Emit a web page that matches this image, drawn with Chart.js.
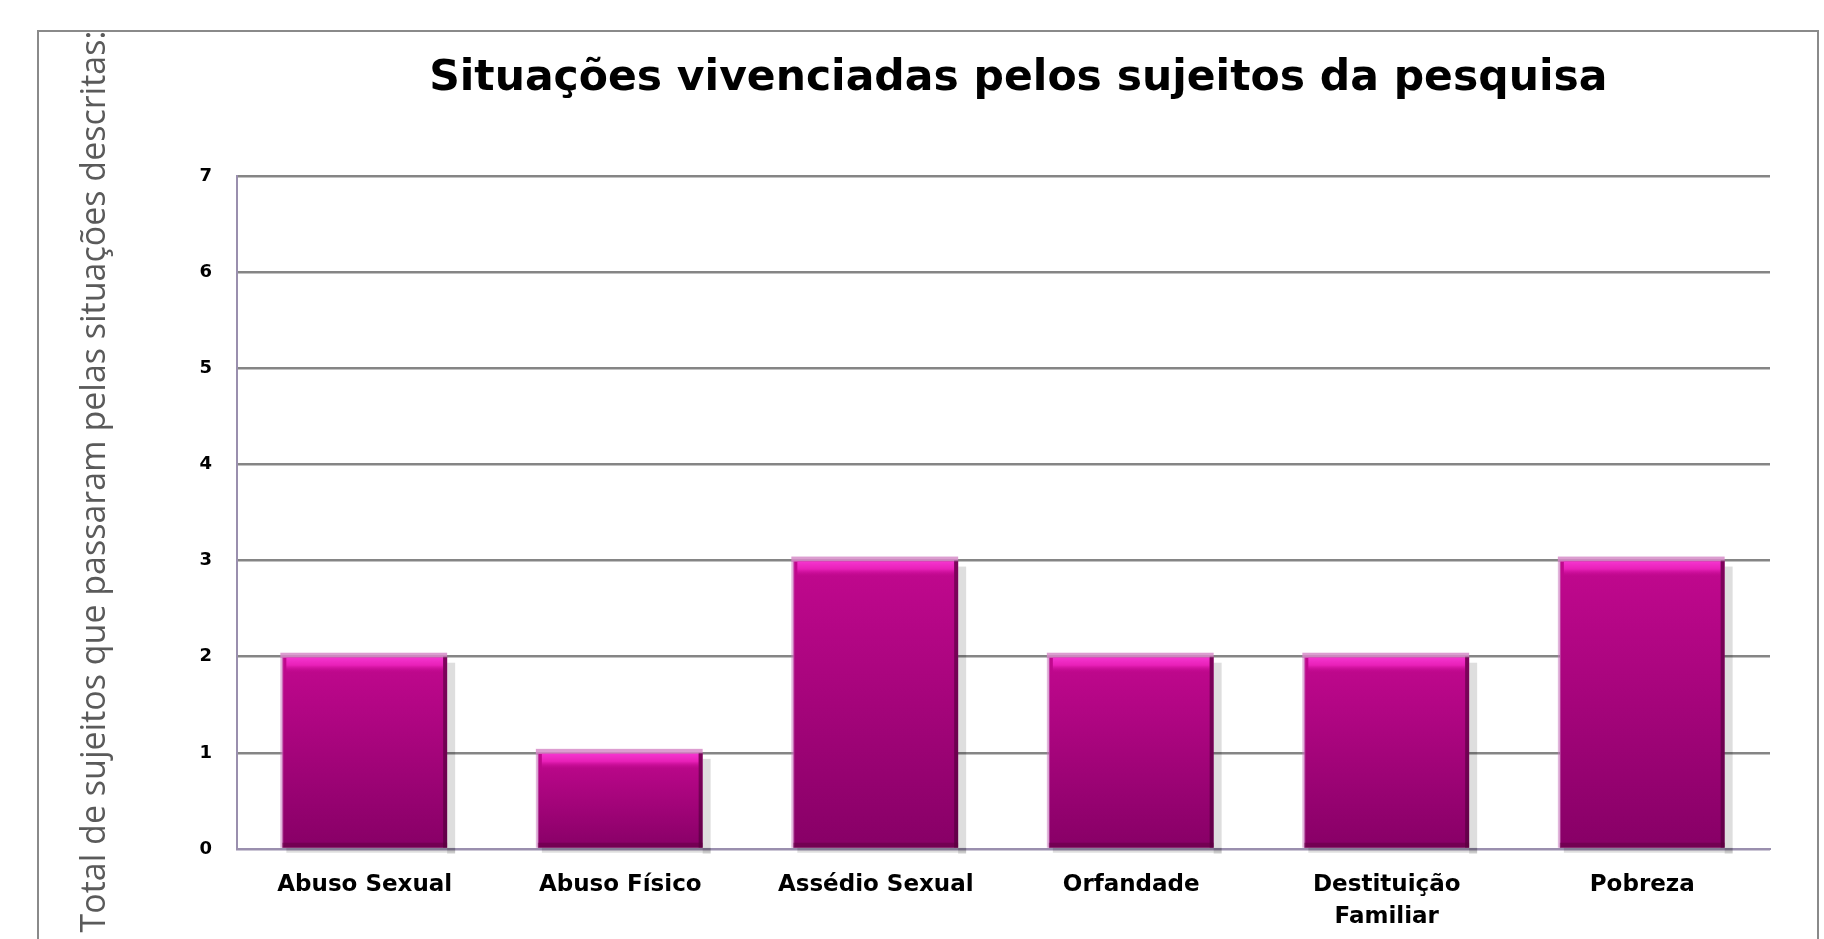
<!DOCTYPE html>
<html>
<head>
<meta charset="utf-8">
<script src="https://cdn.jsdelivr.net/npm/chart.js@4/dist/chart.umd.min.js"></script>
<style>
  html, body { margin: 0; padding: 0; background: #fff; overflow: hidden; }
  #frame { position: absolute; left: 37px; top: 30px; width: 1782px; height: 960px;
           border: 2px solid #8a8a8a; box-sizing: border-box; }
  #frame canvas { display: block; }
</style>
</head>
<body>
<div id="frame"><canvas id="chart" width="1778" height="956"></canvas></div>
<script>
// categorias e valores
const categorias = ['Abuso Sexual', 'Abuso Físico', 'Assédio Sexual', 'Orfandade', ['Destituição', 'Familiar'], 'Pobreza'];
const totais = [2, 1, 3, 2, 2, 3];
const tituloGrafico = 'Situações vivenciadas pelos sujeitos da pesquisa';
const tituloEixoY = 'Total de sujeitos que passaram pelas situações descritas:';
const yMin = 0, yMax = 7, yPasso = 1;

// degradê por barra (de cima para baixo)
function corBarra(context) {
    const chart = context.chart;
    const ys = chart.scales.y;
    if (!ys || context.type !== 'data') return '#b0088a';
    const topo = ys.getPixelForValue(context.raw);
    const base = ys.getPixelForValue(0);
    if (!isFinite(topo) || !isFinite(base) || topo === base) return '#b0088a';
    const g = chart.ctx.createLinearGradient(0, topo, 0, base);
    g.addColorStop(0, '#c2088f');
    g.addColorStop(1, '#870066');
    return g;
}

// sombra e brilho das barras (efeito Excel)
const efeitoBarras = {
    id: 'efeitoBarras',
    beforeDatasetsDraw(chart) {
        const ctx = chart.ctx;
        chart.getDatasetMeta(0).data.forEach(bar => {
            const w = bar.width, l = bar.x - w / 2;
            ctx.save();
            ctx.fillStyle = 'rgba(0,0,0,0.13)';
            ctx.fillRect(l + w, bar.y + 6, 8, bar.base - bar.y);
            ctx.fillRect(l + 4, bar.base, w + 4, 5);
            ctx.restore();
        });
    },
    afterDatasetsDraw(chart) {
        const ctx = chart.ctx;
        chart.getDatasetMeta(0).data.forEach(bar => {
            const w = bar.width, l = bar.x - w / 2, h = bar.base - bar.y;
            ctx.save();
            // borda rosada no topo
            ctx.fillStyle = 'rgba(214,140,200,0.85)';
            ctx.fillRect(l - 2, bar.y - 4, w + 2, 5);
            // faixa clara
            const g = ctx.createLinearGradient(0, bar.y + 1, 0, bar.y + 16);
            g.addColorStop(0, '#f535cf');
            g.addColorStop(0.5, '#e820b8');
            g.addColorStop(1, 'rgba(194,8,143,0)');
            ctx.fillStyle = g;
            ctx.fillRect(l + 4, bar.y + 1, w - 8, 15);
            // bordas laterais
            ctx.fillStyle = 'rgba(200,120,190,0.55)';
            ctx.fillRect(l - 2, bar.y, 3, h);
            ctx.fillStyle = 'rgba(70,0,50,0.55)';
            ctx.fillRect(l + w - 4, bar.y, 4, h);
            ctx.fillStyle = 'rgba(90,0,60,0.45)';
            ctx.fillRect(l, bar.base - 5, w, 5);
            ctx.restore();
        });
    }
};

const ctx = document.getElementById('chart').getContext('2d');
const grafico = new Chart(ctx, {
    type: 'bar',
    data: {
        labels: categorias,
        datasets: [{
            label: 'Total',
            data: totais,
            backgroundColor: corBarra,
            borderWidth: 0,
            categoryPercentage: 1.0,
            barPercentage: 0.645
        }]
    },
    options: {
        responsive: false,
        animation: false,
        layout: { padding: { left: 0, right: 47, top: 0, bottom: 0 } },
        plugins: {
            legend: { display: false },
            tooltip: { enabled: false },
            title: {
                display: true,
                // dois espaços: título levemente à direita do centro, como no original
                text: '\u00a0\u00a0' + tituloGrafico,
                fullSize: false,
                color: '#000',
                font: { family: 'DejaVu Sans', size: 42.5, weight: 'bold' },
                padding: { top: 21, bottom: 72 }
            }
        },
        scales: {
            x: {
                grid: { display: false, drawTicks: false },
                border: { display: true, color: '#9a8fae', width: 2 },
                ticks: {
                    color: '#000',
                    font: { family: 'DejaVu Sans', size: 23, weight: 'bold', lineHeight: 1.35 },
                    padding: 21,
                    maxRotation: 0
                },
                afterFit(scale) { scale.height = 139; }
            },
            y: {
                min: yMin,
                max: yMax,
                ticks: {
                    stepSize: yPasso,
                    color: '#000',
                    font: { family: 'DejaVu Sans', size: 18, weight: 'bold' },
                    padding: 25
                },
                grid: {
                    drawTicks: false,
                    lineWidth: 2.5,
                    color: c => c.index === 0 ? '#9a8fae' : '#858585'
                },
                border: { display: true, color: '#9a8fae', width: 2 },
                title: {
                    display: true,
                    // espaços iniciais: o texto fica um pouco acima do centro, como no original
                    text: '\u00a0\u00a0\u00a0\u00a0\u00a0\u00a0\u00a0' + tituloEixoY,
                    color: '#5a5a5a',
                    font: { family: 'Open Sans', size: 34, weight: 'normal' },
                    padding: { top: 36, bottom: 0 }
                },
                afterFit(scale) { scale.width = 198; }
            }
        }
    },
    plugins: [efeitoBarras]
});
</script>
</body>
</html>
